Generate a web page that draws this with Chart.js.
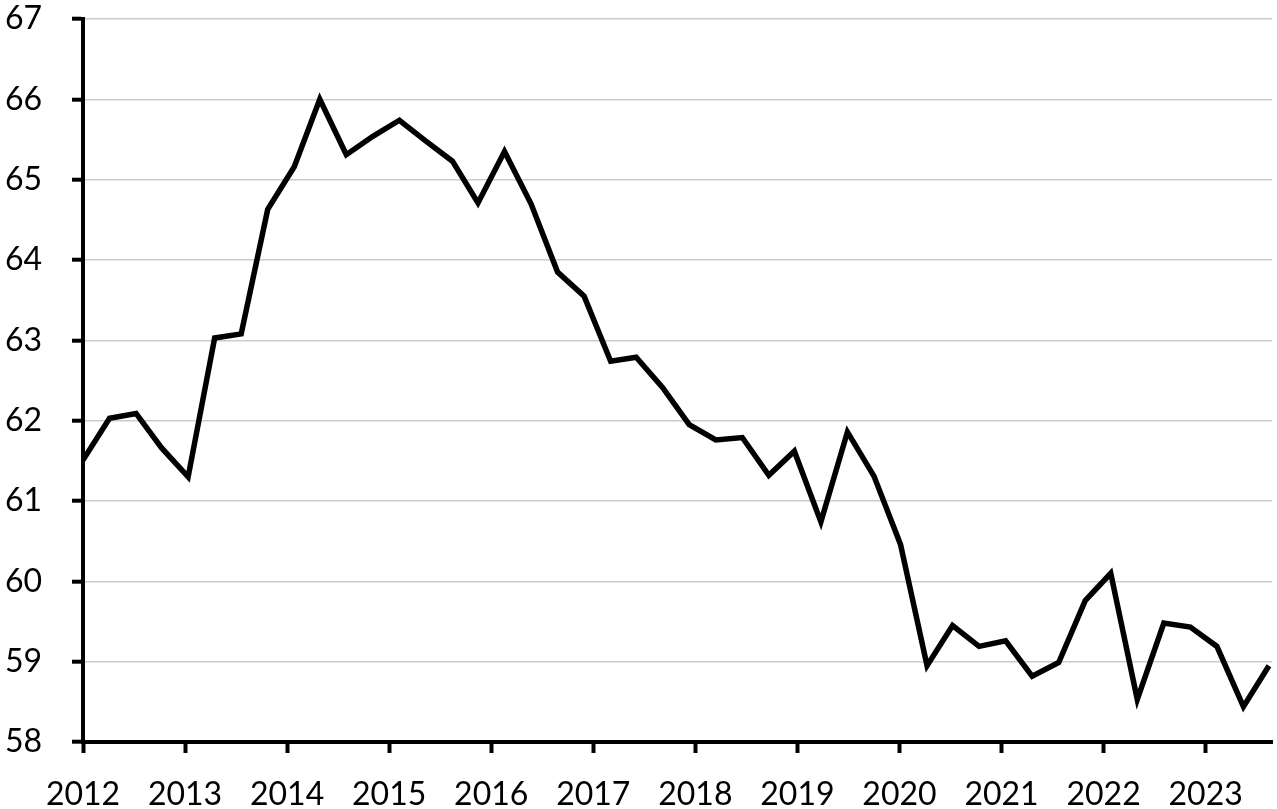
<!DOCTYPE html>
<html>
<head>
<meta charset="utf-8">
<title>Line chart 2012–2023</title>
<script src="https://cdn.jsdelivr.net/npm/chart.js@4/dist/chart.umd.min.js"></script>
<style>
  html, body { margin: 0; padding: 0; background: #fff; }
  #chart { display: block; }
</style>
</head>
<body>
<canvas id="chart" width="1277" height="809"></canvas>
<script>
'use strict';

/* ── Data ── */
const PERIODS = [
  2012.00, 2012.26, 2012.52, 2012.77, 2013.03, 2013.29, 2013.55, 2013.81,
  2014.07, 2014.32, 2014.58, 2014.84, 2015.10, 2015.36, 2015.62, 2015.87,
  2016.13, 2016.39, 2016.65, 2016.91, 2017.17, 2017.42, 2017.68, 2017.94,
  2018.20, 2018.46, 2018.72, 2018.97, 2019.23, 2019.49, 2019.75, 2020.01,
  2020.27, 2020.52, 2020.78, 2021.04, 2021.30, 2021.56, 2021.82, 2022.07,
  2022.33, 2022.59, 2022.85, 2023.11, 2023.37, 2023.62
];

const VALUES = [
  61.51, 62.03, 62.09, 61.66, 61.30, 63.03, 63.08, 64.63,
  65.16, 66.00, 65.31, 65.54, 65.74, 65.48, 65.23, 64.71,
  65.35, 64.70, 63.85, 63.55, 62.74, 62.79, 62.41, 61.95,
  61.76, 61.79, 61.32, 61.62, 60.74, 61.86, 61.31, 60.46,
  58.95, 59.45, 59.19, 59.26, 58.82, 58.99, 59.76, 60.10,
  58.53, 59.48, 59.43, 59.19, 58.44, 58.95
];

const X_MIN = 2012;
const X_MAX = 2023.65;
const Y_MIN = 58;
const Y_MAX = 67;

/* ── Chart ── */
const FONT = { family: "Lato, 'Open Sans', sans-serif", size: 32 };

new Chart(document.getElementById('chart'), {
  type: 'line',
  data: {
    datasets: [{
      data: PERIODS.map((p, i) => ({ x: p, y: VALUES[i] })),
      borderColor: '#000',
      borderWidth: 5.5,
      borderJoinStyle: 'miter',
      pointRadius: 0,
      tension: 0,
      fill: false
    }]
  },
  options: {
    responsive: false,
    animation: false,
    devicePixelRatio: 1,
    layout: { padding: { top: 19, right: 5, left: 0, bottom: 0 } },
    plugins: { legend: { display: false }, tooltip: { enabled: false } },
    scales: {
      x: {
        type: 'linear',
        min: X_MIN,
        max: X_MAX,
        grid: {
          drawOnChartArea: false,
          drawTicks: true,
          tickLength: 11,
          tickColor: '#000',
          tickWidth: 4
        },
        border: { color: '#000', width: 4 },
        ticks: {
          stepSize: 1,
          includeBounds: false,
          padding: 22,
          color: '#000',
          font: FONT,
          maxRotation: 0,
          callback: v => String(v)
        },
        afterFit: s => { s.height = 67; }
      },
      y: {
        min: Y_MIN,
        max: Y_MAX,
        grid: {
          color: '#cbcbcb',
          lineWidth: 1.4,
          drawTicks: true,
          tickLength: 11,
          tickColor: '#000',
          tickWidth: 4
        },
        border: { color: '#000', width: 4 },
        ticks: {
          stepSize: 1,
          padding: 30,
          color: '#000',
          font: FONT
        },
        afterFit: s => { s.width = 83; s.paddingTop = 0; s.paddingBottom = 0; }
      }
    }
  }
});
</script>
</body>
</html>
